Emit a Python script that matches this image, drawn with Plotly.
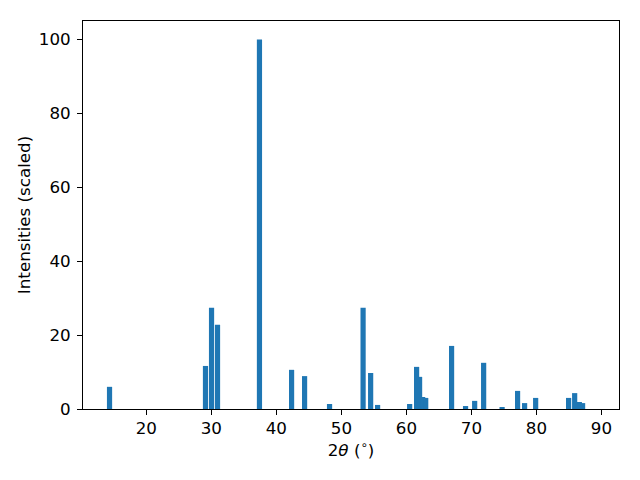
import plotly.graph_objects as go

two_theta = [14.34, 29.1, 30.03, 30.95, 37.4, 42.34, 44.34, 48.18, 53.34, 54.5, 55.57,
             60.5, 61.57, 62.03, 62.5, 62.97, 66.95, 69.1, 70.5, 71.88, 74.72, 77.1,
             78.18, 79.88, 84.95, 85.88, 86.6, 87.1]
intensity = [6.0, 11.65, 27.4, 22.8, 100.0, 10.6, 8.9, 1.35, 27.4, 9.75, 1.1,
             1.35, 11.4, 8.7, 3.25, 3.0, 17.07, 0.8, 2.2, 12.5, 0.55, 4.9,
             1.6, 3.0, 3.0, 4.3, 1.9, 1.6]
x_ticks = [20, 30, 40, 50, 60, 70, 80, 90]
y_ticks = [0, 20, 40, 60, 80, 100]

fig = go.Figure(go.Bar(x=two_theta, y=intensity, width=0.8,
                       marker=dict(color="#1f77b4", line=dict(width=0))))

FS = 16.7
axis_common = dict(showgrid=False, zeroline=False, showline=True, linecolor="black",
                   linewidth=1, mirror=True, ticks="outside", ticklen=5, tickwidth=1,
                   tickcolor="black", tickfont=dict(family="DejaVu Sans", size=FS, color="black"))

fig.update_layout(
    width=640, height=480,
    margin=dict(l=83, r=21, t=21, b=71, autoexpand=False),
    plot_bgcolor="white", paper_bgcolor="white",
    font=dict(family="DejaVu Sans", size=FS, color="black"),
    showlegend=False,
    xaxis=dict(range=[10.26, 92.7], tickvals=x_ticks, ticklabelstandoff=-1,
               title=dict(text="2<i>θ</i> (<sup>∘</sup>)", standoff=6, font=dict(size=FS)),
               **axis_common),
    yaxis=dict(range=[0, 105], tickvals=y_ticks, ticklabelstandoff=3,
               title=dict(text="Intensities (scaled)", standoff=3, font=dict(size=FS)),
               **axis_common),
)

fig.write_html("out.html", config={"displayModeBar": False},
               post_script="document.body.style.margin='0';")
